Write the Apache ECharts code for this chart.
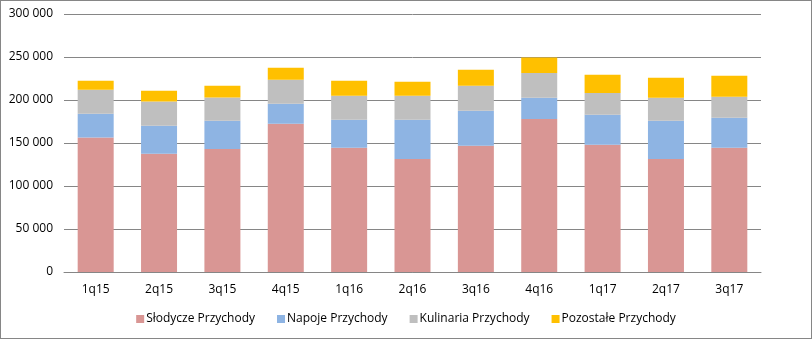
<!DOCTYPE html>
<html>
<head>
<meta charset="utf-8">
<script src="https://cdn.jsdelivr.net/npm/echarts@6/dist/echarts.min.js"></script>
<style>
  html, body { margin: 0; padding: 0; background: #fff; }
  #chart { width: 810px; height: 337px; border: 1px solid #868686; }
</style>
</head>
<body>
<div id="chart"></div>
<script>
// Quarterly revenue by product group
const quarters = ['1q15', '2q15', '3q15', '4q15', '1q16', '2q16', '3q16', '4q16', '1q17', '2q17', '3q17'];
const slodycze  = [156500, 137600, 143000, 172400, 144500, 131400, 146900, 177900, 148000, 131400, 144500];
const napoje    = [27600, 32500, 32900, 23300, 32600, 45700, 40700, 24800, 34900, 44500, 34900];
const kulinaria = [27900, 28300, 27100, 27900, 27900, 27900, 29000, 28700, 25200, 26800, 24400];
const pozostale = [10400, 12400, 13600, 14000, 17400, 16300, 18600, 18100, 21300, 23200, 24500];
const seriesNames = ['Słodycze Przychody', 'Napoje Przychody', 'Kulinaria Przychody', 'Pozostałe Przychody'];
const colors = ['#D99694', '#8EB4E3', '#BFBFBF', '#FFC000'];

const font = 'Open Sans, DejaVu Sans, sans-serif';
const chart = echarts.init(document.getElementById('chart'));

const mk = (name, data, color) => ({
  name, type: 'bar', stack: 'total', data,
  itemStyle: { color },
  barWidth: 36,
  emphasis: { disabled: true }
});

chart.setOption({
  animation: false,
  color: colors,
  grid: { left: 63, right: 50, top: 13, bottom: 66 },
  legend: {
    bottom: 8,
    left: 'center',
    itemWidth: 8, itemHeight: 8, itemGap: 22,
    icon: 'rect',
    textStyle: { fontFamily: font, fontSize: 12, color: '#000', padding: [0, 0, 0, -3] },
    data: seriesNames
  },
  xAxis: {
    type: 'category',
    data: quarters,
    axisTick: { show: false },
    axisLine: { lineStyle: { color: '#868686' } },
    axisLabel: { fontFamily: font, fontSize: 12, color: '#000', margin: 12 }
  },
  yAxis: {
    type: 'value',
    min: 0, max: 300000, interval: 50000,
    axisLine: { show: false },
    axisTick: { show: false },
    splitLine: { lineStyle: { color: '#868686' } },
    axisLabel: {
      fontFamily: font, fontSize: 12, color: '#000', margin: 11,
      formatter: v => v.toString().replace(/\B(?=(\d{3})+(?!\d))/g, ' ')
    }
  },
  series: [
    mk(seriesNames[0], slodycze, colors[0]),
    mk(seriesNames[1], napoje, colors[1]),
    mk(seriesNames[2], kulinaria, colors[2]),
    mk(seriesNames[3], pozostale, colors[3])
  ]
});
</script>
</body>
</html>
